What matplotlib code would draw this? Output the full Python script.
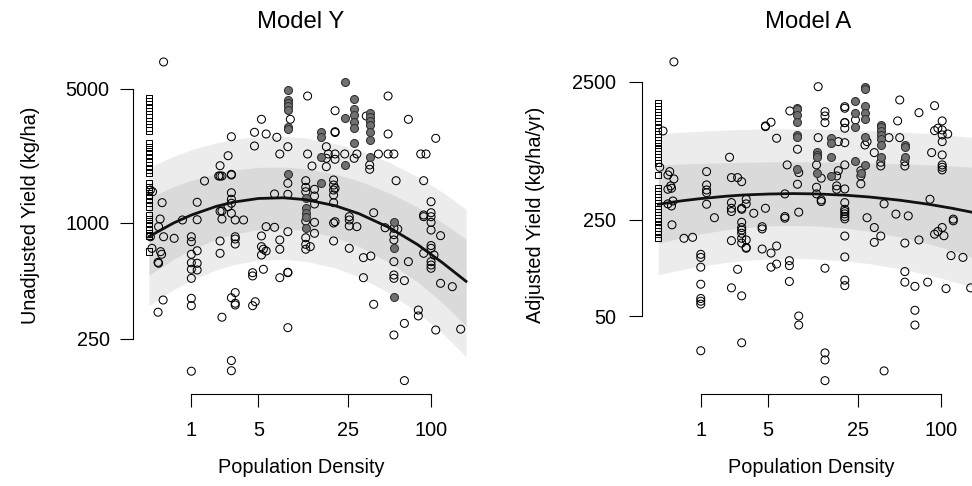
import numpy as np
import matplotlib
matplotlib.use("Agg")
import matplotlib.pyplot as plt
from matplotlib.ticker import NullLocator

plt.rcParams['font.family'] = ['Liberation Sans', 'DejaVu Sans']

# x positions (population density) where the fitted curve / bands were read
curve_pop = [0, 0.5, 1, 2, 3, 5, 8, 12, 20, 30, 50, 80, 120, 178]

# ---- Model Y (unadjusted yield, kg/ha) ----
y_fit = [850, 1001, 1100, 1220, 1285, 1342, 1353, 1323, 1231, 1119, 946, 772, 623, 497]
y_outer_lo = [371, 450, 503, 569, 607, 640, 648, 632, 584, 524, 432, 342, 268, 202]
y_outer_hi = [1948, 2226, 2407, 2615, 2722, 2817, 2828, 2771, 2595, 2393, 2068, 1740, 1450, 1181]
y_inner_lo = [534, 648, 725, 823, 875, 924, 936, 913, 844, 757, 623, 493, 385, 291]
y_inner_hi = [1354, 1547, 1669, 1808, 1887, 1949, 1957, 1918, 1796, 1656, 1434, 1209, 1008, 823]

# sites with zero population density (squares)
y_zero = [4480, 4310, 4140, 3980, 3830, 3680, 3540, 3400, 3270, 3150, 3030,
          2610, 2490, 2380, 2270, 2170, 2080, 1990, 1900, 1820,
          1615, 1540, 1470, 1400, 1340, 1280, 1220,
          1100, 1050, 1000, 960, 920, 880, 860, 709]

# (population density, [yields]) for open circles
y_open = [
    (0.023, [1485, 848]), (0.05, [738]), (0.06, [1455]), (0.16, [624, 343]),
    (0.17, [957, 617]), (0.2, [1049]), (0.21, [709]), (0.23, [687]),
    (0.24, [1276]), (0.26, [397]), (0.27, [6900, 848]), (0.51, [832]),
    (0.73, [1037]),
    (1.0, [848, 799, 687, 621, 574, 515, 405, 371, 169]),
    (1.2, [1282, 1040, 717, 617, 569]),
    (1.48, [1655]), (2.13, [1757]),
    (2.2, [1988, 1757, 1151, 806, 695]),
    (2.3, [1757, 1049, 323, 1155]),
    (2.65, [2241, 1216]),
    (2.85, [2815, 1793, 1778, 1438, 1329, 1267, 1123, 408, 192, 170]),
    (3.1, [1037, 848, 825, 777, 382, 374, 434]),
    (3.7, [1037]), (4.45, [551, 530, 371]), (4.62, [2968, 2518]), (4.69, [389]),
    (5.3, [3468, 856, 753, 681]), (5.5, [730, 574]), (5.8, [2908, 957, 715]),
    (6.8, [1416, 950]), (7.1, [2795]), (7.5, [2288, 816, 730, 519]),
    (8.7, [2497, 1610, 1411, 901, 554, 551, 285]), (9.1, [3468]),
    (12, [1661, 1534, 1455, 1024, 838, 774, 730]), (12.4, [4586, 2288]),
    (13, [753]), (13.4, [1981]), (14, [1498, 1382, 1256, 1008, 884]),
    (17.2, [2497, 2173, 1965]), (17.8, [2288]),
    (19.5, [1675, 1577, 1485, 1399, 1276, 1000, 806]),
    (20, [3845, 2989, 2960, 2288, 2147, 1516, 1016]),
    (23.6, [2288]), (25.5, [1079, 1037, 965, 738]), (27.7, [2173]),
    (29, [2288, 957]), (32.4, [660, 519]), (34, [3608]), (36, [2005, 1904]),
    (36.7, [673]), (38.5, [1131, 377]), (41.7, [2288]), (46.6, [945]),
    (49, [2908, 4586, 2288]),
    (54, [2288, 938, 870, 816, 629, 536, 515, 261]), (56, [1661]), (57.6, [930]),
    (64.3, [501, 300, 151]), (68.7, [3468, 629]), (81, [352, 328]),
    (84.3, [2288]), (88.5, [1661, 1101, 1079, 695]), (92, [2288]),
    (100, [1291, 1131, 1079, 1008, 919, 763, 738, 629, 604, 581]),
    (105, [681]), (108, [2761, 277]), (117, [859, 485]), (142, [466]), (163, [280]),
]

# (population density, [yields]) for grey filled circles
y_filled = [
    (8.7, [4900, 4390, 4230, 4070, 3890, 3160, 3080, 1810]),
    (12, [1345, 1190, 1130, 1080, 940]),
    (15.7, [2990, 2795, 2199, 1610]),
    (23.6, [5404, 3510, 2005]),
    (27.7, [4411, 3910, 3652, 3370, 3114, 2619]),
    (35.9, [3727, 3578, 3410, 3239, 2989, 2706, 2199]),
    (54, [1008, 744, 413]),
]

# ---- Model A (adjusted yield, kg/ha/yr) ----
a_fit = [323, 343, 355, 369, 377, 383, 386, 384, 376, 365, 346, 324, 302, 279]
a_outer_lo = [99.7, 109, 115, 122, 126, 129.5, 130.7, 129.7, 125.6, 120, 110.4, 99.7, 89.5, 79.2]
a_outer_hi = [1047, 1077, 1095, 1115, 1125, 1135, 1138, 1136, 1125, 1110, 1083, 1051, 1017, 980]
a_inner_lo = [168, 186, 197, 211, 218, 225, 227, 225, 217, 206, 188, 168, 149, 130]
a_inner_hi = [622, 633, 639, 646, 650, 654, 655, 654, 650, 645, 636, 624, 612, 598]

a_zero = [1752, 1667, 1585, 1508, 1434, 1364, 1298, 1154, 1098, 1044, 994, 945, 899,
          827, 787, 748, 712, 677, 644, 527, 424, 404, 384, 365, 347, 330, 314,
          299, 284, 270, 257, 245, 229, 218, 207, 197, 184]

a_open = [
    (0.023, [599]), (0.08, [1098]), (0.17, [527, 415, 325]), (0.205, [557]),
    (0.225, [439]), (0.24, [422, 314]), (0.25, [229]), (0.27, [341]),
    (0.29, [3480, 493]), (0.52, [183]), (0.75, [186]),
    (1.0, [140, 133, 113, 85, 67, 64, 61, 28]),
    (1.2, [557, 446, 410, 392, 323]), (1.5, [258]), (2.2, [708]),
    (2.3, [504, 332, 302, 286, 176, 80]), (2.65, [504, 109]),
    (2.9, [471, 297, 302, 239, 219, 210, 199, 183, 169, 70, 32]),
    (3.2, [325, 351, 178, 157, 155]), (3.75, [278]), (4.45, [222, 214, 153]),
    (4.75, [1180, 1194, 302]), (5.3, [1270, 143, 113]), (5.9, [972, 161, 119]),
    (6.9, [384, 263, 256]), (7.2, [623]), (7.5, [126, 116, 89]), (7.56, [1533]),
    (8.7, [809, 451]), (8.9, [548, 283, 50, 43]), (12.24, [623, 429, 384]),
    (12.6, [2300, 982]), (13.3, [499, 347, 338]),
    (14.2, [1515, 1410, 1262, 111, 27, 24, 17]),
    (17.4, [518, 439, 415]), (17.9, [919, 566]),
    (20, [1647, 1604, 1262, 1262, 1149, 903, 623, 417, 332, 297, 286, 275,
          263, 253, 190, 134, 91, 83]),
    (24, [1320]), (26.3, [566, 518, 454]), (28.2, [869]), (29.2, [919, 258]),
    (33, [765, 219, 171]), (36.8, [651, 612, 190]), (38.9, [325, 20]),
    (42.2, [982]), (47.4, [274]), (48.8, [1298]), (50.5, [1842, 982]),
    (55, [658, 612, 169, 105, 88]), (58.2, [266]), (65, [82, 55, 43]),
    (69.5, [1490, 178]), (80.3, [88]), (83.4, [351]), (85.7, [765]),
    (90, [1675, 1104, 196]), (95, [1149, 205]),
    (102, [1298, 1117, 1027, 919, 736, 623, 599, 573, 219]),
    (105, [191]), (108.6, [79]), (111.7, [1044]), (118, [137]),
    (122.5, [252, 245]), (143.6, [133]), (163, [80]),
]

a_filled = [
    (8.7, [1604, 1577, 1434, 1282, 1027, 998, 582]),
    (12.24, [778, 736, 708, 548]),
    (15.9, [972, 903, 708, 518]),
    (24, [1811, 1475, 1168, 669]),
    (26.3, [542]),
    (28.2, [2300, 2225, 1675, 1475, 1342, 988, 623]),
    (36.8, [1214, 1168, 1104, 1027, 956, 869, 708]),
    (55, [869, 836, 708]),
]

x_ticks = [1, 5, 25, 100]


def expand(cols):
    xs, ys = [], []
    for p, vals in cols:
        xs += [p] * len(vals)
        ys += vals
    return xs, ys


def fwd(x):
    return np.log10(np.asarray(x, dtype=float) + 1)


def inv(u):
    return 10 ** np.asarray(u, dtype=float) - 1


def draw_panel(ax, title, ylabel, zero, open_cols, filled_cols, fit,
               olo, ohi, ilo, ihi, yticks, ylim, ypad, title_x, ylab_x):
    ax.set_xscale('function', functions=(fwd, inv))
    ax.set_yscale('log')
    ax.patch.set_alpha(0)

    # prediction bands
    ax.fill_between(curve_pop, olo, ohi, color='#ececec', lw=0, zorder=1)
    ax.fill_between(curve_pop, ilo, ihi, color='#dadada', lw=0, zorder=1)

    # points
    ax.scatter([0] * len(zero), zero, marker='s', s=21, facecolors='none',
               edgecolors='black', linewidths=0.7, zorder=2)
    ox, oy = expand(open_cols)
    ax.scatter(ox, oy, marker='o', s=33, facecolors='none',
               edgecolors='black', linewidths=0.75, zorder=2)
    fx, fy = expand(filled_cols)
    ax.scatter(fx, fy, marker='o', s=33, facecolors='#707070',
               edgecolors='#303030', linewidths=0.75, zorder=2)

    # fitted curve
    ax.plot(curve_pop, fit, color='#111111', lw=2.0, zorder=3)

    ax.set_xlim(-0.23, 190)
    ax.set_ylim(*ylim)

    for s in ['top', 'right']:
        ax.spines[s].set_visible(False)
    for s in ['left', 'bottom']:
        ax.spines[s].set_linewidth(0.8)
    ax.spines['left'].set_bounds(yticks[0], yticks[-1])
    ax.spines['bottom'].set_bounds(x_ticks[0], x_ticks[-1])

    ax.set_xticks(x_ticks, labels=[str(t) for t in x_ticks])
    ax.set_yticks(yticks, labels=[str(t) for t in yticks])
    ax.xaxis.set_minor_locator(NullLocator())
    ax.yaxis.set_minor_locator(NullLocator())
    ax.tick_params(axis='both', length=9.4, width=0.8, labelsize=14.3)
    ax.tick_params(axis='x', pad=10)
    ax.tick_params(axis='y', pad=ypad)

    ax.set_xlabel('Population Density', fontsize=14.3, va='center')
    ax.xaxis.set_label_coords(0.5, -0.2067)
    ax.set_ylabel(ylabel, fontsize=14.3, va='center')
    ax.yaxis.set_label_coords(ylab_x, 0.5)

    ax.figure.text(title_x, 1 - 22 / 486, title, ha='center', va='center',
                   fontsize=17.2)


fig = plt.figure(figsize=(9.72, 4.86), dpi=100)
ax1 = fig.add_axes([133 / 972, 92 / 486, 337 / 972, 358 / 486])
ax2 = fig.add_axes([642.3 / 972, 92 / 486, 337.7 / 972, 358 / 486])

draw_panel(ax1, 'Model Y', 'Unadjusted Yield (kg/ha)', y_zero, y_open, y_filled,
           y_fit, y_outer_lo, y_outer_hi, y_inner_lo, y_inner_hi,
           [250, 1000, 5000], (128.6, 9420), 7.5, 301 / 972, -0.3056)
draw_panel(ax2, 'Model A', 'Adjusted Yield (kg/ha/yr)', a_zero, a_open, a_filled,
           a_fit, a_outer_lo, a_outer_hi, a_inner_lo, a_inner_hi,
           [50, 250, 2500], (13.6, 5358), 9.5, 808 / 972, -0.3148)

fig.savefig('out.png', dpi=100)
